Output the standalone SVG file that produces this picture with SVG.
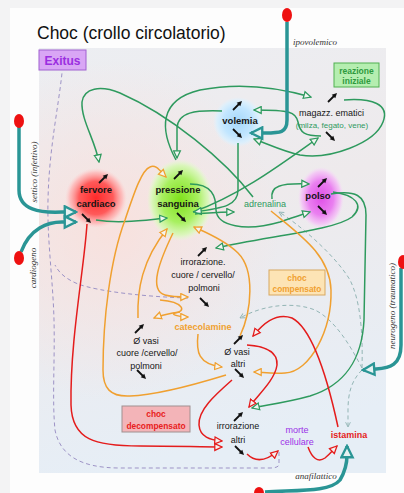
<svg xmlns="http://www.w3.org/2000/svg" width="404" height="493" viewBox="0 0 404 493">
<style>
.sans{font-family:"Liberation Sans",Arial,sans-serif}
.main{font-family:"Liberation Sans",Arial,sans-serif;font-size:9.5px;font-weight:bold;fill:#151515;text-anchor:middle}
.sec{font-family:"Liberation Sans",Arial,sans-serif;font-size:9px;fill:#151515;text-anchor:middle}
.it{font-family:"Liberation Serif","Times New Roman",serif;font-style:italic;font-size:9px;fill:#333;text-anchor:middle}
.g{fill:none;stroke:#2e9a5e;stroke-width:1.5;marker-end:url(#mg)}
.o{fill:none;stroke:#f0a030;stroke-width:1.5;marker-end:url(#mo)}
.r{fill:none;stroke:#e41c1c;stroke-width:1.5;marker-end:url(#mr)}
.tl{fill:none;stroke:#2a9595;stroke-width:3.5;marker-end:url(#mt)}
.dp{fill:none;stroke:#9d93c6;stroke-width:1;stroke-dasharray:4 3}
.dt{fill:none;stroke:#93b5b5;stroke-width:1;stroke-dasharray:4 3}
.dot{fill:#ee1111}
</style>
<defs>
<linearGradient id="bg" x1="0" y1="0" x2="0.2" y2="1">
<stop offset="0" stop-color="#eceef2"/><stop offset="0.45" stop-color="#eeeaec"/><stop offset="1" stop-color="#e6eef6"/>
</linearGradient>
<radialGradient id="pink" cx="110" cy="230" r="170" gradientUnits="userSpaceOnUse">
<stop offset="0" stop-color="#f9e0dc" stop-opacity="0.9"/><stop offset="1" stop-color="#f9e0dc" stop-opacity="0"/>
</radialGradient>
<radialGradient id="gRed"><stop offset="0" stop-color="#ff2a2a"/><stop offset="0.55" stop-color="#ff5a5a"/><stop offset="0.85" stop-color="#ffb0b0" stop-opacity="0.7"/><stop offset="1" stop-color="#ffd0d0" stop-opacity="0"/></radialGradient>
<radialGradient id="gGreen"><stop offset="0" stop-color="#7fe01a"/><stop offset="0.55" stop-color="#a8f060"/><stop offset="0.85" stop-color="#d4fab0" stop-opacity="0.8"/><stop offset="1" stop-color="#e4ffd0" stop-opacity="0"/></radialGradient>
<radialGradient id="gBlue"><stop offset="0" stop-color="#a6d8fa"/><stop offset="0.6" stop-color="#c2e6ff"/><stop offset="0.85" stop-color="#d8f0ff" stop-opacity="0.8"/><stop offset="1" stop-color="#e0f2ff" stop-opacity="0"/></radialGradient>
<radialGradient id="gMag"><stop offset="0" stop-color="#e050e8"/><stop offset="0.55" stop-color="#ea80f0"/><stop offset="0.85" stop-color="#f4c0f6" stop-opacity="0.8"/><stop offset="1" stop-color="#f8d8fa" stop-opacity="0"/></radialGradient>
<marker id="mg" viewBox="0 0 10 10" refX="9" refY="5" markerWidth="9" markerHeight="9" markerUnits="userSpaceOnUse" orient="auto"><path d="M1,1.2 L9,5 L1,8.8 z" fill="#f2f5f2" stroke="#2e9a5e" stroke-width="1.4"/></marker>
<marker id="mo" viewBox="0 0 10 10" refX="9" refY="5" markerWidth="9" markerHeight="9" markerUnits="userSpaceOnUse" orient="auto"><path d="M1,1.2 L9,5 L1,8.8 z" fill="#f5f3ef" stroke="#f0a030" stroke-width="1.4"/></marker>
<marker id="mr" viewBox="0 0 10 10" refX="9" refY="5" markerWidth="9" markerHeight="9" markerUnits="userSpaceOnUse" orient="auto"><path d="M1,1.2 L9,5 L1,8.8 z" fill="#f5f0f0" stroke="#e41c1c" stroke-width="1.4"/></marker>
<marker id="mt" viewBox="0 0 16 16" refX="14" refY="8" markerWidth="15" markerHeight="15" markerUnits="userSpaceOnUse" orient="auto"><path d="M2,2 L14,8 L2,14 z" fill="#e6f2f2" stroke="#2a9595" stroke-width="2.5"/></marker>
<marker id="md" viewBox="0 0 10 10" refX="9" refY="5" markerWidth="6" markerHeight="6" markerUnits="userSpaceOnUse" orient="auto"><path d="M1,1 L9,5 L1,9" fill="none" stroke="#93b5b5" stroke-width="1.5"/></marker>
<g id="ua"><path d="M-4,4 L2,-2" stroke="#111" stroke-width="1.8"/><path d="M5,-5 L3.3,0.3 L-0.3,-3.3 z" fill="#111"/></g>
<g id="da"><path d="M-4,-4 L2,2" stroke="#111" stroke-width="1.8"/><path d="M5,5 L-0.3,3.3 L3.3,-0.3 z" fill="#111"/></g>
</defs>

<rect x="0" y="0" width="404" height="493" fill="#f3f3f4"/>
<rect x="10" y="8" width="394" height="485" fill="#fdfdfd"/>
<rect x="39" y="48" width="347" height="425" fill="url(#bg)"/>
<rect x="39" y="48" width="347" height="425" fill="url(#pink)"/>
<text x="37" y="39" class="sans" font-size="17.5" fill="#111">Choc (crollo circolatorio)</text>

<g id="exitus"><rect x="39" y="50" width="47" height="20" fill="#d9a6f5" stroke="#a060d0"/><text x="62.5" y="65" class="sans" font-size="12" font-weight="bold" fill="#9b2fe0" text-anchor="middle">Exitus</text></g>
<g id="reazione-iniziale"><rect x="334" y="63" width="45" height="24" fill="#b5eeb0" stroke="#50b050"/><text x="356.5" y="73.5" class="sans" font-size="8.5" font-weight="bold" fill="#2e9a3e" text-anchor="middle">reazione</text><text x="356.5" y="84" class="sans" font-size="8.5" font-weight="bold" fill="#2e9a3e" text-anchor="middle">iniziale</text></g>
<g id="choc-compensato"><rect x="269" y="270" width="56" height="25" fill="#fde4b5" stroke="#d8a860"/><text x="297" y="281" class="sans" font-size="8.3" font-weight="bold" fill="#f0a030" text-anchor="middle">choc</text><text x="297" y="292" class="sans" font-size="8.3" font-weight="bold" fill="#f0a030" text-anchor="middle">compensato</text></g>
<g id="choc-decompensato"><rect x="122" y="406" width="68" height="26" fill="#f3b4b8" stroke="#a09090"/><text x="156" y="417" class="sans" font-size="8.4" font-weight="bold" fill="#e82020" text-anchor="middle">choc</text><text x="156" y="429" class="sans" font-size="8.4" font-weight="bold" fill="#e82020" text-anchor="middle">decompensato</text></g>

<g id="fervore-cardiaco"><ellipse cx="96" cy="198" rx="31" ry="30" fill="url(#gRed)"/><text x="96" y="193" class="main">fervore</text><text x="96" y="207" class="main">cardiaco</text><use href="#ua" x="103" y="179"/><use href="#da" x="86" y="218"/></g>
<g id="pressione-sanguina"><ellipse cx="180" cy="200" rx="33" ry="41" fill="url(#gGreen)"/><text x="178" y="193" class="main">pressione</text><text x="178" y="207" class="main">sanguina</text><use href="#ua" x="178" y="175"/><use href="#da" x="181" y="217"/></g>
<g id="volemia"><ellipse cx="238" cy="122" rx="25" ry="25" fill="url(#gBlue)"/><text x="240" y="124" class="main">volemia</text><use href="#ua" x="237" y="106"/><use href="#da" x="237" y="133"/></g>
<g id="polso"><ellipse cx="321" cy="198" rx="23" ry="31" fill="url(#gMag)"/><text x="318" y="199" class="main">polso</text><use href="#ua" x="322" y="183"/><use href="#da" x="322" y="210"/></g>
<g id="adrenalina"><text x="265" y="207" class="sans" font-size="9" fill="#2e9a5e" text-anchor="middle">adrenalina</text></g>
<g id="magazz-ematici"><text x="331.5" y="116" class="sec">magazz. ematici</text><text x="332" y="128" class="sans" font-size="8" fill="#2e9a5e" text-anchor="middle">(milza, fegato, vene)</text><use href="#ua" x="332" y="98"/><use href="#da" x="330" y="136"/></g>
<g id="irrorazione-cuore"><text x="203" y="265" class="sec">irrorazione.</text><text x="203" y="278" class="sec">cuore / cervello/</text><text x="204" y="291" class="sec">polmoni</text><use href="#ua" x="202" y="252"/><use href="#da" x="204" y="302"/></g>
<g id="catecolamine"><text x="203" y="330" class="sans" font-size="9" font-weight="bold" fill="#f0a030" text-anchor="middle">catecolamine</text></g>
<g id="vasi-cuore"><text x="146" y="344" class="sec">Ø vasi</text><text x="147" y="356" class="sec">cuore /cervello/</text><text x="146" y="369" class="sec">polmoni</text><use href="#ua" x="139" y="329"/><use href="#da" x="141" y="374"/></g>
<g id="vasi-altri"><text x="237" y="355" class="sec">Ø vasi</text><text x="238" y="367" class="sec">altri</text><use href="#ua" x="238" y="340"/><use href="#da" x="239" y="373"/></g>
<g id="irrorazione-altri"><text x="238" y="429" class="sec">irrorazione</text><text x="238" y="443" class="sec">altri</text><use href="#ua" x="238" y="417"/><use href="#da" x="239" y="450"/></g>
<g id="morte-cellulare"><text x="297" y="433" class="sans" font-size="9" fill="#9b30e8" text-anchor="middle">morte</text><text x="297" y="445" class="sans" font-size="9" fill="#9b30e8" text-anchor="middle">cellulare</text></g>
<g id="istamina"><text x="349" y="438" class="sans" font-size="9" font-weight="bold" fill="#e41c1c" text-anchor="middle">istamina</text></g>

<g id="connectors">
<path class="dp" d="M279,452 L279,464 Q279,468 270,468 L120,468 C80,468 60,455 55,430 C52,400 55,360 54,320 C53,280 47,240 48,200 C49,150 58,110 62,73"/>
<path class="dp" d="M188,298 C150,297 100,292 78,284 C66,279 59,273 55,265"/>
<path class="dt" marker-end="url(#md)" d="M362,368 C363,330 360,300 350,280 C335,255 300,225 279,212"/>
<path class="dt" marker-end="url(#md)" d="M362,368 C350,345 335,320 315,310 C295,302 265,304 240,318"/>
<path class="dt" marker-end="url(#md)" d="M362,370 C352,380 348,392 348,410 L348,427"/>

<path class="g" d="M253,197 C225,160 170,115 120,93 C100,85 84,88 82,102 C81,120 95,140 99,162"/>
<path class="g" d="M176,160 C160,130 158,100 200,90 C240,82 280,88 311,97"/>
<path class="g" d="M222,111 C195,110 178,112 177,128 L177,158"/>
<path class="g" d="M321,136 C305,136 300,133 298,122 C296,112 290,110 254,110"/>
<path class="g" d="M344,100 C372,98 390,104 383,122 C375,143 330,160 300,155 C285,152 270,145 254,139"/>
<path class="g" d="M193,212 C240,195 280,165 318,138"/>
<path class="g" d="M238,143 L238,190 C238,205 225,208 194,212"/>
<path class="g" d="M195,214 C210,213 220,212 234,212"/>
<path class="g" d="M96,220 C120,224 145,220 167,218"/>
<path class="g" d="M272,199 C270,186 280,183 309,184"/>
<path class="g" d="M190,184 C212,184 216,196 216,210 C217,226 245,232 280,222 C292,218 300,215 310,212"/>
<path class="g" d="M333,192 C355,195 365,205 352,217 C335,230 270,236 216,248"/>
<path class="g" d="M331,194 C355,190 366,195 366,215 L364,320 C362,360 345,385 310,396 C285,403 265,405 252,408"/>

<path class="o" d="M226,375 C200,383 160,395 130,396 C110,397 103,388 103,370 C103,320 110,260 125,220 C135,190 142,170 150,167 C156,164 160,171 166,177"/>
<path class="o" d="M138,318 C137,290 142,260 167,229"/>
<path class="o" d="M173,233 C160,260 148,290 165,295 C172,297 180,297 188,297"/>
<path class="o" d="M240,336 C252,310 255,270 238,253 C225,240 205,232 194,227"/>
<path class="o" d="M160,300 C185,302 186,312 175,313 C170,314 178,317 188,317"/>
<path class="o" d="M180,312 C172,313 162,315 154,318"/>
<path class="o" d="M198,334 C196,352 198,364 222,367"/>
<path class="o" d="M271,211 C300,235 330,255 331,290 C332,330 310,372 285,373 C270,374 262,372 254,372"/>

<path class="r" d="M87,224 C84,270 70,340 71,405 C72,440 95,446 140,446 C175,446 200,447 222,447"/>
<path class="r" d="M232,380 C215,395 198,410 199,425 C200,437 210,440 222,441"/>
<path class="r" d="M338,427 C330,390 315,330 292,318 C275,312 262,325 253,336"/>
<path class="r" d="M247,345 C262,346 278,350 277,365 C275,380 258,395 249,407"/>
<path class="r" d="M247,454 C255,462 265,462 278,451"/>
<path class="r" d="M308,447 C312,458 318,463 325,458 C330,454 333,450 337,446"/>
</g>

<g id="causes">
<path class="tl" d="M287,22 L287,120 C287,133 280,133 265,133 L251,133"/>
<path class="tl" d="M19,127 L19,190 C19,210 40,213 62,212 L76,212"/>
<path class="tl" d="M21,252 C30,228 48,222 62,222 L76,222"/>
<path class="tl" d="M401,268 L401,345 C401,365 390,368 376,369 L363,370"/>
<path class="tl" d="M265,492 C300,490 330,492 340,480 C346,470 347,462 347,455 L347,446"/>
<ellipse class="dot" cx="287" cy="15" rx="5" ry="7"/>
<ellipse class="dot" cx="19" cy="121" rx="5" ry="7"/>
<ellipse class="dot" cx="19" cy="258" rx="5" ry="7"/>
<ellipse class="dot" cx="403" cy="262" rx="5" ry="7"/>
<ellipse class="dot" cx="259" cy="493" rx="5" ry="6"/>
<text x="315" y="45" class="it">ipovolemico</text>
<text class="it" transform="translate(37,172) rotate(-90)">settico (infettivo)</text>
<text class="it" transform="translate(36,268) rotate(-90)">cardiogeno</text>
<text class="it" transform="translate(395,306) rotate(-90)">neurogeno (traumatico)</text>
<text x="316" y="479" class="it">anafilattico</text>
</g>
</svg>
